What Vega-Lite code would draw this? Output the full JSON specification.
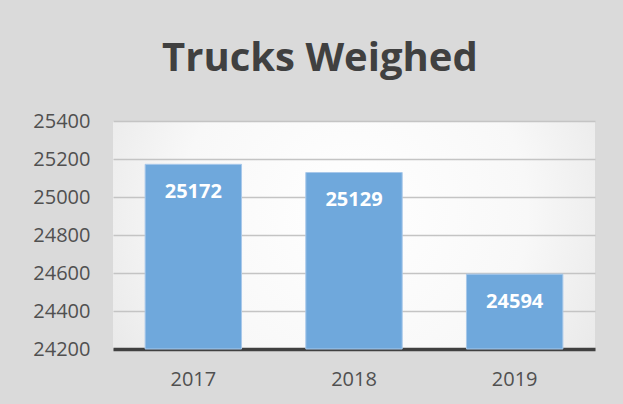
{
  "$schema": "https://vega.github.io/schema/vega-lite/v6.json",
  "width": 482,
  "height": 228,
  "autosize": {"type": "none"},
  "padding": {"left": 113, "top": 121, "right": 28, "bottom": 55},
  "background": "#dadada",
  "title": {
    "text": "Trucks Weighed",
    "font": "Open Sans",
    "fontSize": 40,
    "fontWeight": "bold",
    "color": "#404040",
    "anchor": "middle",
    "frame": "bounds",
    "baseline": "alphabetic",
    "offset": 0,
    "dx": 6
  },
  "config": {
    "view": {
      "stroke": null,
      "fill": {
        "gradient": "radial",
        "x1": 0.5, "y1": 0.45, "r1": 0,
        "x2": 0.5, "y2": 0.45, "r2": 0.8,
        "stops": [
          {"offset": 0, "color": "#ffffff"},
          {"offset": 0.45, "color": "#f8f8f8"},
          {"offset": 1, "color": "#dadada"}
        ]
      }
    },
    "axis": {"labelFont": "Open Sans", "labelFontSize": 20, "labelColor": "#505050"}
  },
  "data": {
    "values": [
      {"year": "2017", "trucks": 25172},
      {"year": "2018", "trucks": 25129},
      {"year": "2019", "trucks": 24594}
    ]
  },
  "encoding": {
    "x": {
      "field": "year",
      "type": "nominal",
      "scale": {"paddingInner": 0.4, "paddingOuter": 0.2},
      "axis": {
        "title": null,
        "labelAngle": 0,
        "ticks": false,
        "tickSize": 0,
        "labelPadding": 20,
        "domainColor": "#404040",
        "domainWidth": 3.5,
        "grid": false
      }
    },
    "y": {
      "field": "trucks",
      "type": "quantitative",
      "scale": {"domain": [24200, 25400], "zero": false, "nice": false},
      "axis": {
        "title": null,
        "format": "d",
        "values": [24200, 24400, 24600, 24800, 25000, 25200, 25400],
        "ticks": false,
        "tickSize": 0,
        "labelPadding": 23,
        "domain": false,
        "grid": true,
        "gridColor": "#c4c4c4",
        "gridWidth": 1.5
      }
    }
  },
  "layer": [
    {
      "mark": {"type": "bar", "fill": "#6fa8dc", "stroke": "#a8c8ea", "strokeWidth": 1},
      "encoding": {"y2": {"datum": 24200}}
    },
    {
      "mark": {
        "type": "text",
        "font": "Open Sans",
        "fontSize": 20,
        "fontWeight": "bold",
        "color": "#ffffff",
        "baseline": "middle",
        "dy": 28
      },
      "encoding": {"text": {"field": "trucks", "type": "quantitative", "format": "d"}}
    }
  ]
}
